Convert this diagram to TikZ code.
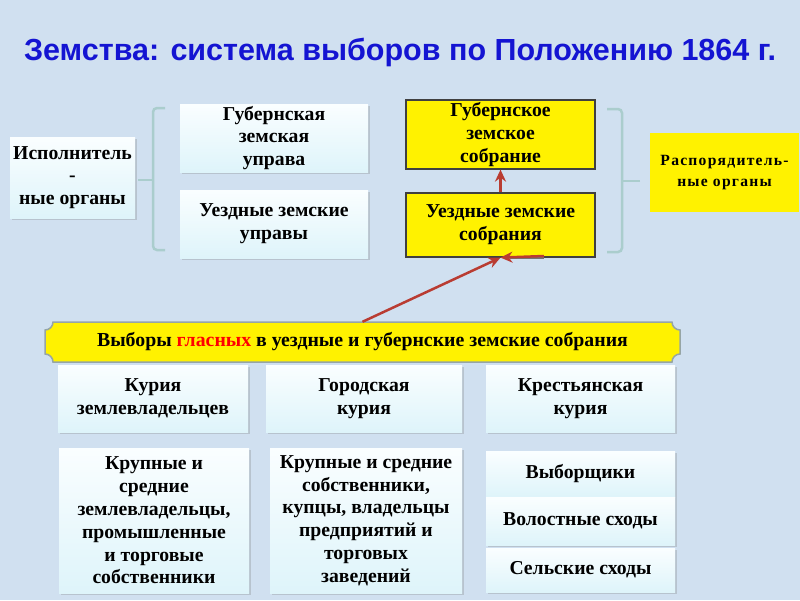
\documentclass[tikz,border=0pt]{standalone}
\usepackage{fontspec}
\setmainfont{Liberation Serif}
\newfontfamily\titlefont{Liberation Sans}
\usetikzlibrary{arrows.meta,shadows}

\definecolor{bgblue}{RGB}{208,224,240}
\definecolor{titleblue}{RGB}{20,20,210}
\definecolor{boxtop}{RGB}{250,254,255}
\definecolor{boxbot}{RGB}{222,244,250}
\definecolor{bracecol}{RGB}{170,205,205}
\definecolor{arrowred}{RGB}{185,60,50}
\definecolor{plaqueline}{RGB}{150,165,165}

\tikzset{
  lightbox/.style={rectangle, top color=boxtop, bottom color=boxbot, draw=none,
    drop shadow={opacity=0.3, shadow xshift=1.5pt, shadow yshift=-2pt},
    inner sep=0pt, align=center, font=\fontsize{19.7}{22.8}\selectfont\bfseries},
  yellowbox/.style={rectangle, fill=yellow, draw=black!75, line width=1.2pt,
    inner sep=0pt, align=center, font=\fontsize{19.7}{22.8}\selectfont\bfseries},
  bracepath/.style={draw=bracecol, line width=2.5pt, rounded corners=4pt},
  redarrow/.style={draw=arrowred, line width=2.5pt, -{Stealth[length=12pt,width=11pt]}},
  plaque/.style={fill=yellow, draw=plaqueline, line width=1.5pt}
}

\begin{document}
\begin{tikzpicture}[x=1pt,y=-1pt]
\useasboundingbox (0,0) rectangle (800,600);
\fill[bgblue] (0,0) rectangle (800,600);

\node[titleblue, font=\titlefont\fontsize{30.5}{34}\selectfont\bfseries] (title) at (400,52)
  {Земства: система выборов по Положению 1864 г.};

% upper part
\node[lightbox, minimum width=125, minimum height=81] (ispol) at (72.5,177.5)
  {Исполнитель\\-\\ные органы};
\node[lightbox, minimum width=188, minimum height=68] (gubupr) at (274,138)
  {Губернская\\земская\\управа};
\node[lightbox, minimum width=188, minimum height=68] (uezdupr) at (274,224)
  {Уездные земские\\управы};
\node[yellowbox, minimum width=189, minimum height=69] (gubsobr) at (500.5,134.5)
  {Губернское\\земское\\собрание};
\node[yellowbox, minimum width=189, minimum height=64] (uezdsobr) at (500.5,225)
  {Уездные земские\\собрания};
\node[yellowbox, draw=none, minimum width=149, minimum height=79,
  font=\fontsize{15.6}{21.5}\selectfont\bfseries\addfontfeature{LetterSpace=8}] (rasp) at (724.5,172.5)
  {Распорядитель-\\ные органы};

\draw[bracepath] (165,108) -- (153,108) -- (153,250) -- (165,250);
\draw[bracepath] (138,180) -- (153,180);
\draw[bracepath] (607,109) -- (622,109) -- (622,252) -- (607,252);
\draw[bracepath] (640,181) -- (622,181);

% banner
\draw[plaque] (53,322) -- (672,322) arc[start angle=180,end angle=90,radius=8]
  -- (680,354) arc[start angle=270,end angle=180,radius=8]
  -- (53,362) arc[start angle=0,end angle=-90,radius=8]
  -- (45,330) arc[start angle=90,end angle=0,radius=8] -- cycle;
\node[minimum width=635, minimum height=40, inner sep=0pt,
  font=\fontsize{19.8}{23}\selectfont\bfseries] (vybory) at (362.5,342)
  {Выборы \textcolor{red}{гласных} в уездные и губернские земские собрания};

% arrows
\draw[redarrow] (uezdsobr.north) -- (gubsobr.south);
\draw[redarrow] (vybory.north) -- (uezdsobr.south);
\coordinate (hstart) at (544,256);
\draw[black!55, line width=2.5pt] (510,257.5) -- (544,257.5);
\draw[redarrow] (hstart) -- (uezdsobr.south);

% curiae
\node[lightbox, minimum width=190, minimum height=67] (kurzem) at (153,398.5)
  {Курия\\землевладельцев};
\node[lightbox, minimum width=196, minimum height=67] (kurgor) at (364,398.5)
  {Городская\\курия};
\node[lightbox, minimum width=189, minimum height=67] (kurkr) at (580.5,398.5)
  {Крестьянская\\курия};

\node[lightbox, minimum width=190, minimum height=145] (zemtxt) at (154,520.5)
  {Крупные и\\средние\\землевладельцы,\\промышленные\\и торговые\\собственники};
\node[lightbox, minimum width=192, minimum height=145] (gortxt) at (366,520.5)
  {Крупные и средние\\собственники,\\купцы, владельцы\\предприятий и\\торговых\\заведений};
\node[lightbox, minimum width=189, minimum height=46] (vyborsh) at (580.5,474)
  {Выборщики};
\node[lightbox, minimum width=189, minimum height=48] (volost) at (580.5,521)
  {Волостные сходы};
\node[lightbox, minimum width=189, minimum height=44] (selsk) at (580.5,570)
  {Сельские сходы};
\end{tikzpicture}
\end{document}
